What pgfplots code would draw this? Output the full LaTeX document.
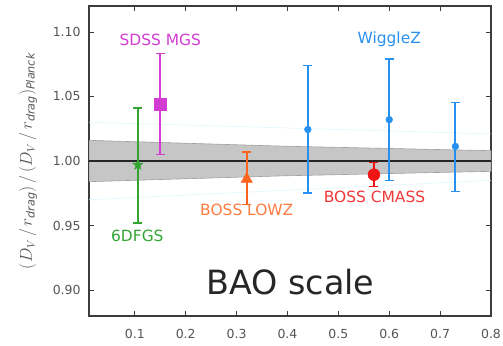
\documentclass[border=0pt]{standalone}
\usepackage{pgfplots}
\pgfplotsset{compat=1.18}
\usepackage{fontspec}
\setmainfont{DejaVu Sans}
\definecolor{cgreen}{RGB}{50,165,50}
\definecolor{cmag}{RGB}{210,60,210}
\definecolor{corange}{RGB}{255,100,30}
\definecolor{cred}{RGB}{240,20,20}
\definecolor{cblue}{RGB}{40,145,240}
\definecolor{cframe}{RGB}{60,60,60}
\definecolor{ctick}{RGB}{85,85,85}
\pgfdeclareplotmark{fstar}{%
  \pgfpathmoveto{\pgfqpointpolar{90}{\pgfplotmarksize}}%
  \pgfpathlineto{\pgfqpointpolar{126}{0.4\pgfplotmarksize}}%
  \pgfpathlineto{\pgfqpointpolar{162}{\pgfplotmarksize}}%
  \pgfpathlineto{\pgfqpointpolar{198}{0.4\pgfplotmarksize}}%
  \pgfpathlineto{\pgfqpointpolar{234}{\pgfplotmarksize}}%
  \pgfpathlineto{\pgfqpointpolar{270}{0.4\pgfplotmarksize}}%
  \pgfpathlineto{\pgfqpointpolar{306}{\pgfplotmarksize}}%
  \pgfpathlineto{\pgfqpointpolar{342}{0.4\pgfplotmarksize}}%
  \pgfpathlineto{\pgfqpointpolar{18}{\pgfplotmarksize}}%
  \pgfpathlineto{\pgfqpointpolar{54}{0.4\pgfplotmarksize}}%
  \pgfpathclose
  \pgfusepathqfillstroke}
\pgfplotsset{
  myerr/.style={error bars/.cd, y dir=both, y explicit,
    error bar style={line width=1.8pt, #1},
    error mark options={rotate=90, mark size=4.5bp, #1, line width=1.2pt}}
}
\begin{document}
\begin{tikzpicture}
\begin{axis}[
  scale only axis, width=402bp, height=310bp,
  xmin=0.01, xmax=0.8, ymin=0.88, ymax=1.12,
  xtick={0.1,0.2,...,0.8}, ytick={0.90,0.95,1.00,1.05,1.10},
  xticklabels={0.1,0.2,0.3,0.4,0.5,0.6,0.7,0.8},
  yticklabels={0.90,0.95,1.00,1.05,1.10},
  tick align=inside, major tick length=5bp,
  every tick/.style={cframe, line width=0.6pt},
  axis line style={cframe, line width=1.4pt},
  ticklabel style={text=ctick, font=\fontsize{12.5}{14}\selectfont},
  xticklabel style={yshift=-10bp},
  yticklabel style={xshift=-5bp},
  /pgf/number format/assume math mode=true,
  clip=true,
]
% light outer lines
\addplot[cyan!12, line width=0.6pt] coordinates {(0.01,1.030) (0.8,1.021)};
\addplot[cyan!12, line width=0.6pt] coordinates {(0.01,0.970) (0.8,0.985)};
% band
\addplot[fill=gray!45, draw=gray!75, line width=0.6pt] coordinates {(0.01,1.016) (0.39,1.0115) (0.8,1.008) (0.8,0.992) (0.39,0.9885) (0.01,0.984)} -- cycle;
\addplot[black!85, line width=1.5pt] coordinates {(0.01,1.0) (0.8,1.0)};
% WiggleZ
\addplot[cblue, only marks, mark=*, mark size=3.4bp, myerr=cblue]
  coordinates {(0.44,1.0244) += (0,0.0493) -= (0,0.0491)
               (0.60,1.032) += (0,0.0469) -= (0,0.0472)
               (0.73,1.0113) += (0,0.0342) -= (0,0.0347)};
% 6dFGS
\addplot[cgreen, only marks, mark=fstar, mark size=5.5bp, myerr=cgreen]
  coordinates {(0.106,0.997) += (0,0.044) -= (0,0.045)};
% SDSS MGS
\addplot[cmag, only marks, mark=square*, mark size=6bp, myerr=cmag]
  coordinates {(0.15,1.044) += (0,0.0395) -= (0,0.039)};
% BOSS LOWZ
\addplot[corange, only marks, mark=triangle*, mark size=6.5bp, myerr=corange]
  coordinates {(0.32,0.986) += (0,0.021) -= (0,0.0194)};
% BOSS CMASS
\addplot[cred, only marks, mark=*, mark size=6bp, myerr=cred]
  coordinates {(0.57,0.9894) += (0,0.0096) -= (0,0.0094)};
% labels
\node[text=cmag, font=\fontsize{15.5}{17}\selectfont] at (axis cs:0.15,1.094) {SDSS MGS};
\node[text=cblue, font=\fontsize{15.5}{17}\selectfont] at (axis cs:0.6,1.094) {WiggleZ};
\node[text=cgreen, font=\fontsize{15.5}{17}\selectfont] at (axis cs:0.105,0.942) {6DFGS};
\node[text=corange!85, font=\fontsize{15.5}{17}\selectfont] at (axis cs:0.32,0.9625) {BOSS LOWZ};
\node[text=cred!85, font=\fontsize{15.5}{17}\selectfont] at (axis cs:0.571,0.972) {BOSS CMASS};
\node[text=black!85, font=\fontsize{33.5}{36}\selectfont] at (axis cs:0.406,0.906) {BAO scale};
\coordinate (SW) at (rel axis cs:0,0);
\coordinate (NE) at (rel axis cs:1,1);
\coordinate (ML) at (rel axis cs:0,0.5);
\end{axis}
\node[rotate=90, text=ctick, font=\fontsize{16}{18}\selectfont] at ([xshift=-61bp,yshift=0bp]ML) {$(D_V\,/\,r_{\mathit{drag}})\,/\,(D_V\,/\,r_{\mathit{drag}})_{\mathit{Planck}}$};
\pgfresetboundingbox
\path[use as bounding box] ([xshift=-89bp,yshift=-29bp]SW) rectangle ([xshift=12bp,yshift=6bp]NE);
\end{tikzpicture}
\end{document}
